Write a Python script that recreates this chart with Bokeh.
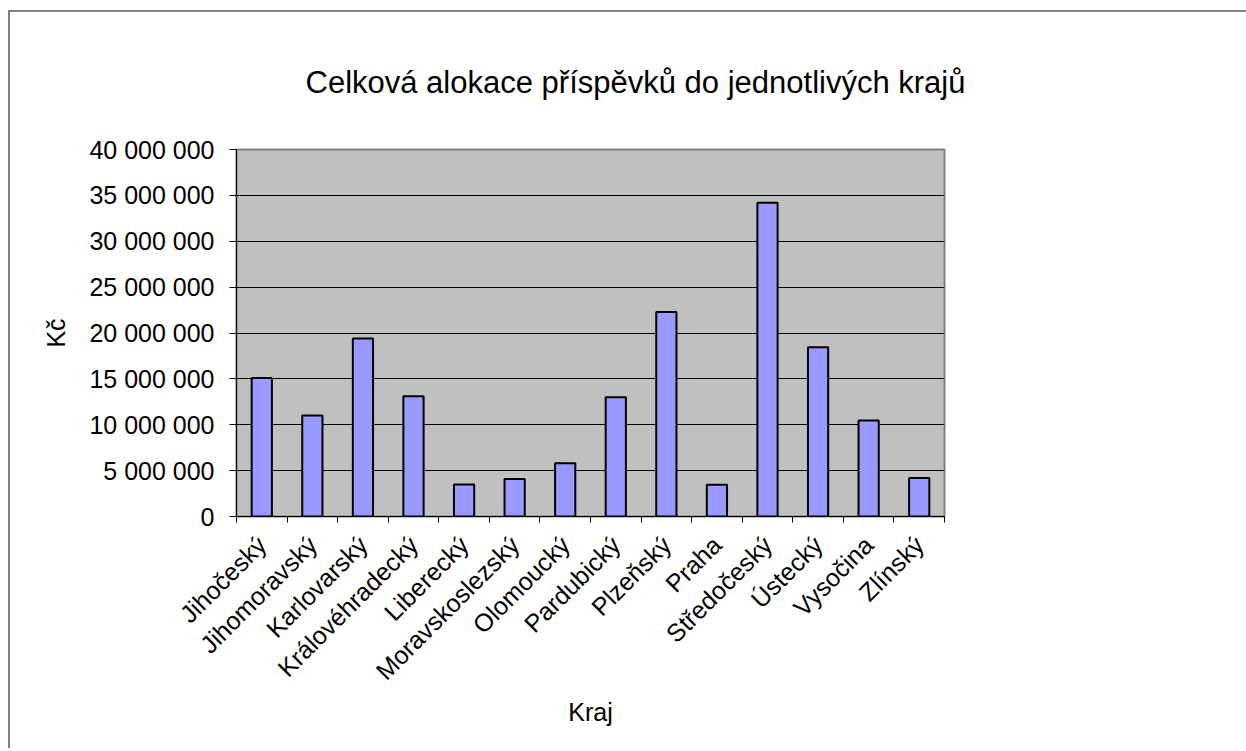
import math
from bokeh.plotting import figure
from bokeh.models import (Range1d, LinearAxis, FixedTicker, ColumnDataSource, Grid)
from bokeh.embed import file_html
from bokeh.resources import INLINE

# ---- data ----
regions = ["Jihočeský", "Jihomoravský", "Karlovarský", "Královéhradecký",
           "Liberecký", "Moravskoslezský", "Olomoucký", "Pardubický",
           "Plzeňský", "Praha", "Středočeský", "Ústecký", "Vysočina", "Zlínský"]
values = [15_100_000, 11_000_000, 19_400_000, 13_100_000, 3_500_000,
          4_100_000, 5_800_000, 13_000_000, 22_300_000, 3_450_000,
          34_200_000, 18_450_000, 10_450_000, 4_200_000]
y_ticks = [0, 5_000_000, 10_000_000, 15_000_000, 20_000_000,
           25_000_000, 30_000_000, 35_000_000, 40_000_000]
y_tick_labels = ["0", "5 000 000", "10 000 000", "15 000 000", "20 000 000",
                 "25 000 000", "30 000 000", "35 000 000", "40 000 000"]
title_text = "Celková alokace příspěvků do jednotlivých krajů"
x_title = "Kraj"
y_title = "Kč"

FONT = "Liberation Sans"
n = len(regions)
centers = [i + 0.5 for i in range(n)]   # category slot centres
bounds = list(range(n + 1))             # category slot boundaries

p = figure(
    x_range=Range1d(0, n),
    y_range=Range1d(0, y_ticks[-1]),
    x_axis_type=None, y_axis_type=None,
    frame_width=708, frame_height=367,
    min_border_left=226, min_border_top=136,
    min_border_right=302, min_border_bottom=232,
    output_backend="svg", toolbar_location=None,
    background_fill_color="#C0C0C0", border_fill_color="white",
    title=title_text,
)
p.styles = {"margin-left": "8px", "margin-top": "10px",
            "border-left": "2px solid #808080", "border-top": "2px solid #808080"}
p.outline_line_color = "#808080"
p.outline_line_width = 2

p.title.align = "left"
p.title.text_font = FONT
p.title.text_font_size = "31px"
p.title.text_font_style = "normal"
p.title.text_color = "black"
p.title.offset = 69
p.title.standoff = 100

# y axis
yaxis = LinearAxis(
    ticker=FixedTicker(ticks=y_ticks),
    major_label_overrides={t: l for t, l in zip(y_ticks, y_tick_labels)},
    axis_label=y_title,
)
yaxis.axis_line_color = "black"
yaxis.axis_line_width = 1
yaxis.major_tick_out = 7
yaxis.major_tick_in = 0
yaxis.minor_tick_line_color = None
yaxis.major_label_text_font = FONT
yaxis.major_label_text_font_size = "25px"
yaxis.major_label_text_color = "black"
yaxis.major_label_standoff = 15
yaxis.axis_label_text_font = FONT
yaxis.axis_label_text_font_size = "25px"
yaxis.axis_label_text_font_style = "normal"
yaxis.axis_label_text_color = "black"
yaxis.axis_label_standoff = 16
p.add_layout(yaxis, "left")

# x axis: labels at slot centres, tick marks at slot boundaries
xaxis = LinearAxis(ticker=FixedTicker(ticks=centers, minor_ticks=bounds),
                   major_label_overrides={c: r for c, r in zip(centers, regions)},
                   axis_label=x_title)
xaxis.axis_line_color = "black"
xaxis.axis_line_width = 1
xaxis.major_tick_line_color = None
xaxis.major_tick_out = 0
xaxis.major_tick_in = 0
xaxis.minor_tick_line_color = "black"
xaxis.minor_tick_out = 6
xaxis.minor_tick_in = 0
xaxis.major_label_orientation = math.pi / 4
xaxis.major_label_text_font = FONT
xaxis.major_label_text_font_size = "25px"
xaxis.major_label_text_color = "black"
xaxis.major_label_standoff = 18
xaxis.axis_label_text_font = FONT
xaxis.axis_label_text_font_size = "25px"
xaxis.axis_label_text_font_style = "normal"
xaxis.axis_label_text_color = "black"
xaxis.axis_label_standoff = 0
p.add_layout(xaxis, "below")

# grid
p.add_layout(Grid(dimension=1, ticker=yaxis.ticker, grid_line_color="black",
                  grid_line_width=1))

src = ColumnDataSource(dict(x=centers, value=values))
p.vbar(x="x", top="value", width=0.4, source=src,
       fill_color="#9999FF", line_color="black", line_width=2)

open("out.html", "w").write(file_html(p, INLINE))
